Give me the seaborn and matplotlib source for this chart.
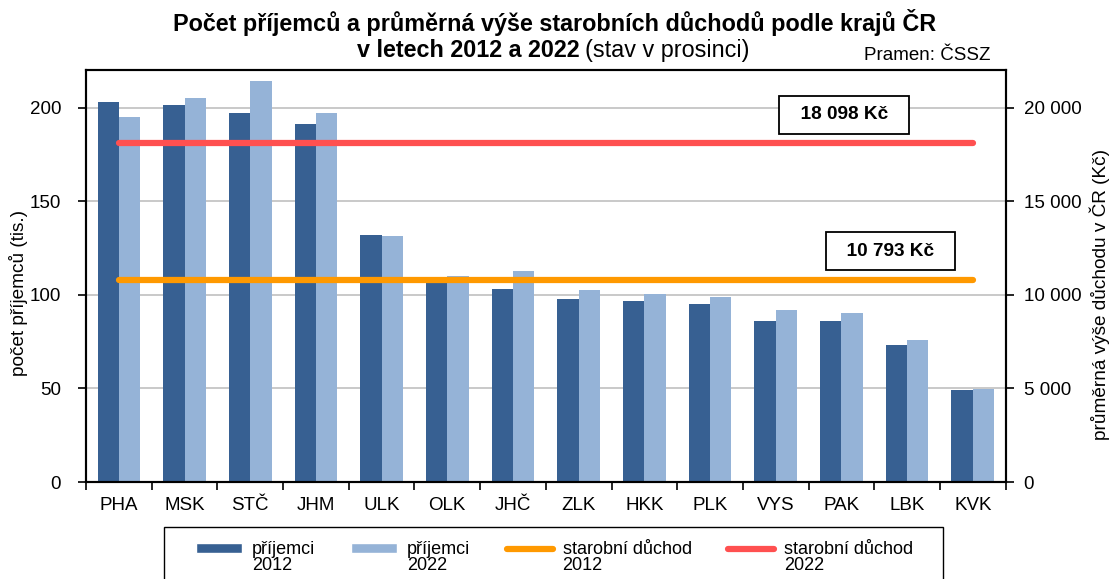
import matplotlib.pyplot as plt
import numpy as np
import pandas as pd
import seaborn as sns
from matplotlib.lines import Line2D
from matplotlib.patches import Patch, Rectangle
from matplotlib.legend_handler import HandlerPatch, HandlerLine2D
from matplotlib.ticker import FuncFormatter, FixedLocator

# data
regions = ["PHA", "MSK", "STČ", "JHM", "ULK", "OLK", "JHČ",
           "ZLK", "HKK", "PLK", "VYS", "PAK", "LBK", "KVK"]
recipients_2012 = [202.7, 201.6, 197.3, 191.4, 132.0, 106.8, 103.2,
                   97.7, 96.6, 95.0, 86.1, 86.1, 73.1, 49.4]
recipients_2022 = [194.7, 205.3, 214.4, 197.3, 131.5, 110.2, 112.5,
                   102.3, 100.5, 98.9, 92.0, 90.0, 75.8, 49.7]
years = ["2012", "2022"]
pension_2012 = 10793
pension_2022 = 18098
pension_labels = ["10 793 Kč", "18 098 Kč"]
legend_labels = ["příjemci\n2012", "příjemci\n2022",
                 "starobní důchod\n2012", "starobní důchod\n2022"]

dark_blue = "#376092"
light_blue = "#95b3d7"
orange = "#ff9900"
red = "#ff5050"

sns.set_style("ticks")
plt.rcParams["font.family"] = ["Liberation Sans", "DejaVu Sans"]
for k in ["text.color", "axes.labelcolor", "xtick.color", "ytick.color"]:
    plt.rcParams[k] = "black"


# legend handles sit next to the first line of the two-line labels
class UpPatch(HandlerPatch):
    def create_artists(self, legend, orig_handle, xdescent, ydescent, width, height, fontsize, trans):
        return super().create_artists(legend, orig_handle, xdescent, ydescent - 0.5 * fontsize,
                                      width, height, fontsize, trans)


class UpLine(HandlerLine2D):
    def create_artists(self, legend, orig_handle, xdescent, ydescent, width, height, fontsize, trans):
        return super().create_artists(legend, orig_handle, xdescent, ydescent - 1.0 * fontsize,
                                      width, height, fontsize, trans)


df = pd.DataFrame({
    "kraj": regions * 2,
    "pocet": recipients_2012 + recipients_2022,
    "rok": [years[0]] * len(regions) + [years[1]] * len(regions),
})

fig = plt.figure(figsize=(11.1, 5.79), dpi=100)
ax = fig.add_axes([0.0775, 0.1675, 0.8285, 0.7115])

sns.barplot(data=df, x="kraj", y="pocet", hue="rok", palette=[dark_blue, light_blue],
            width=0.65, gap=0, ax=ax, legend=False, edgecolor="none", saturation=1)

ax.set_ylim(0, 220)
ax.set_xlim(-0.5, len(regions) - 0.5)
ax.yaxis.set_major_locator(FixedLocator([0, 50, 100, 150, 200]))
ax.grid(axis="y", color="#c0c0c0", linewidth=1.2)
ax.set_axisbelow(True)
ax.set_xlabel("")
ax.set_ylabel("počet příjemců (tis.)", fontsize=13.7, labelpad=1)
ax.yaxis.label.set_y(0.459)
ax.tick_params(axis="y", labelsize=13.5, length=6, width=1.2, direction="out", pad=12)
ax.tick_params(axis="x", which="major", labelsize=13.5, length=0, pad=11)
ax.set_xticks(np.arange(len(regions) + 1) - 0.5, minor=True)
ax.tick_params(axis="x", which="minor", length=6, width=1.2, direction="out")
for s in ax.spines.values():
    s.set_color("black")
    s.set_linewidth(1.5)

ax2 = ax.twinx()
pos = np.arange(len(regions))
sns.lineplot(x=pos, y=[pension_2012] * len(regions), color=orange, linewidth=4.5,
             ax=ax2, solid_capstyle="round")
sns.lineplot(x=pos, y=[pension_2022] * len(regions), color=red, linewidth=4.5,
             ax=ax2, solid_capstyle="round")
ax2.set_ylim(0, 22000)
ax2.yaxis.set_major_locator(FixedLocator([0, 5000, 10000, 15000, 20000]))
ax2.yaxis.set_major_formatter(FuncFormatter(lambda v, p: f"{int(v):,}".replace(",", " ")))
ax2.set_ylabel("průměrná výše důchodu v ČR (Kč)", fontsize=13.7, labelpad=6)
ax2.yaxis.label.set_y(0.456)
ax2.tick_params(axis="y", labelsize=13.5, length=6, width=1.2, direction="out", pad=7)
for s in ax2.spines.values():
    s.set_color("black")
    s.set_linewidth(1.5)

box = dict(boxstyle="square,pad=0.55", facecolor="white", edgecolor="black", linewidth=1.3)
ax2.text(11.75, 12335, "  " + pension_labels[0] + "  ", ha="center", va="center",
         fontsize=13.7, fontweight="bold", bbox=box)
ax2.text(11.04, 19600, "  " + pension_labels[1] + "  ", ha="center", va="center",
         fontsize=13.7, fontweight="bold", bbox=box)

# title
fig.text(0.5, 0.962, "Počet příjemců a průměrná výše starobních důchodů podle krajů ČR",
         ha="center", va="center", fontsize=16.8, fontweight="bold")
fig.text(0.5225, 0.913, "v letech 2012 a 2022", ha="right", va="center",
         fontsize=16.8, fontweight="bold")
fig.text(0.527, 0.913, "(stav v prosinci)", ha="left", va="center", fontsize=16.8)
fig.text(0.892, 0.905, "Pramen: ČSSZ", ha="right", va="center", fontsize=13.5)

handles = [Patch(facecolor=dark_blue), Patch(facecolor=light_blue),
           Line2D([], [], color=orange, linewidth=4.5, solid_capstyle="round"),
           Line2D([], [], color=red, linewidth=4.5, solid_capstyle="round")]
leg = fig.legend(handles, legend_labels, loc="upper center", bbox_to_anchor=(0.4995, 0.0898),
                 ncol=4, fontsize=13, frameon=False,
                 handlelength=2.55, handleheight=0.45, columnspacing=2.0,
                 borderpad=0.75, handletextpad=0.55, borderaxespad=0,
                 handler_map={Patch: UpPatch(), Line2D: UpLine()})
for t in leg.get_texts():
    t.set_linespacing(0.95)

# legend frame, wider than the entries as in the source layout
fig.patches.append(Rectangle((164 / 1110, -0.05), 779 / 1110, 0.05 + 52 / 579,
                             transform=fig.transFigure, facecolor="none",
                             edgecolor="black", linewidth=1.0))

fig.savefig("out.png", dpi=100)
